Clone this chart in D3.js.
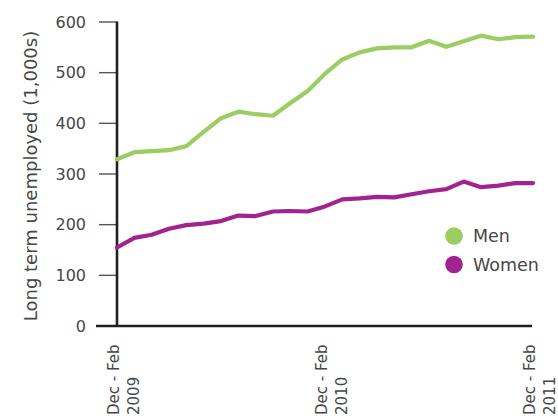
<!DOCTYPE html>
<html>
<head>
<meta charset="utf-8">
<script src="https://cdn.jsdelivr.net/npm/d3@7/dist/d3.min.js"></script>
<style>
  html, body { margin: 0; padding: 0; background: #fff; }
  svg { display: block; }
  text { font-family: "DejaVu Sans", sans-serif; fill: #474747; }
</style>
</head>
<body>
<svg id="chart" width="558" height="416"></svg>
<script>
// Rolling three-month periods, Dec-Feb 2009 to Dec-Feb 2011
const periods = [
  "Dec-Feb 2009", "Jan-Mar 2009", "Feb-Apr 2009", "Mar-May 2009", "Apr-Jun 2009",
  "May-Jul 2009", "Jun-Aug 2009", "Jul-Sep 2009", "Aug-Oct 2009", "Sep-Nov 2009",
  "Oct-Dec 2009", "Nov-Jan 2010", "Dec-Feb 2010", "Jan-Mar 2010", "Feb-Apr 2010",
  "Mar-May 2010", "Apr-Jun 2010", "May-Jul 2010", "Jun-Aug 2010", "Jul-Sep 2010",
  "Aug-Oct 2010", "Sep-Nov 2010", "Oct-Dec 2010", "Nov-Jan 2011", "Dec-Feb 2011"
];

// Long term unemployed, thousands
const men = [329, 343, 345, 347, 355, 383, 410, 423, 418, 415, 440, 464, 498,
             526, 540, 548, 550, 550, 563, 551, 562, 573, 566, 570, 571];
const women = [155, 174, 180, 192, 199, 202, 207, 218, 217, 226, 227, 226, 236,
               250, 252, 255, 254, 260, 266, 270, 285, 274, 277, 282, 282];

const yTicks = [0, 100, 200, 300, 400, 500, 600];
const xTickPeriods = ["Dec-Feb 2009", "Dec-Feb 2010", "Dec-Feb 2011"];
const xTickLabels = [["Dec - Feb", "2009"], ["Dec - Feb", "2010"], ["Dec - Feb", "2011"]];

const seriesNames = ["Men", "Women"];
const seriesColors = ["#9ccd63", "#a2238f"];

const svg = d3.select("#chart");

const x = d3.scalePoint().domain(periods).range([117, 533]);
const y = d3.scaleLinear().domain([0, 600]).range([326, 22]);

// Y axis with ticks and labels
const yAxis = svg.append("g").attr("transform", "translate(117,0)");
yAxis.selectAll("line.tick")
  .data(yTicks)
  .join("line")
  .attr("class", "tick")
  .attr("x1", -18).attr("x2", 0)
  .attr("y1", d => y(d)).attr("y2", d => y(d))
  .attr("stroke", "#555").attr("stroke-width", 1.4);
yAxis.selectAll("text")
  .data(yTicks)
  .join("text")
  .attr("x", -31)
  .attr("y", d => y(d))
  .attr("dy", "0.36em")
  .attr("text-anchor", "end")
  .attr("font-size", 16)
  .text(d => d);
yAxis.append("line")
  .attr("x1", 0).attr("x2", 0)
  .attr("y1", y(600) - 0.5).attr("y2", y(0))
  .attr("stroke", "#231f20").attr("stroke-width", 2.6);

// Baseline
svg.append("line")
  .attr("x1", 96).attr("x2", 532)
  .attr("y1", y(0)).attr("y2", y(0))
  .attr("stroke", "#231f20").attr("stroke-width", 2.6);

// Y axis title
svg.append("text")
  .attr("transform", `translate(37,${(y(0) + y(600)) / 2 + 2}) rotate(-90)`)
  .attr("text-anchor", "middle")
  .attr("font-size", 18)
  .text("Long term unemployed (1,000s)");

// X tick labels, rotated
const xLab = svg.selectAll("g.xlab")
  .data(xTickPeriods)
  .join("g")
  .attr("class", "xlab")
  .attr("transform", d => `translate(${x(d)},0)`);
xLab.each(function (d, i) {
  const g = d3.select(this);
  xTickLabels[i].forEach((line, j) => {
    g.append("text")
      .attr("transform", `translate(${j === 0 ? 2 : 22},415) rotate(-90)`)
      .attr("text-anchor", "start")
      .attr("font-size", 15)
      .text(line);
  });
});

// Series lines
const line = d3.line()
  .x((d, i) => x(periods[i]))
  .y(d => y(d));
[men, women].forEach((vals, k) => {
  svg.append("path")
    .datum(vals)
    .attr("d", line)
    .attr("fill", "none")
    .attr("stroke", seriesColors[k])
    .attr("stroke-width", 4.2)
    .attr("stroke-linejoin", "round")
    .attr("stroke-linecap", "round");
});

// Legend
const legend = svg.append("g").attr("transform", "translate(454,236)");
const item = legend.selectAll("g")
  .data(seriesNames)
  .join("g")
  .attr("transform", (d, i) => `translate(0,${i * 28.5})`);
item.append("circle")
  .attr("r", 8.8)
  .attr("fill", (d, i) => seriesColors[i]);
item.append("text")
  .attr("x", 19)
  .attr("dy", "0.36em")
  .attr("font-size", 17.5)
  .text(d => d);
</script>
</body>
</html>
